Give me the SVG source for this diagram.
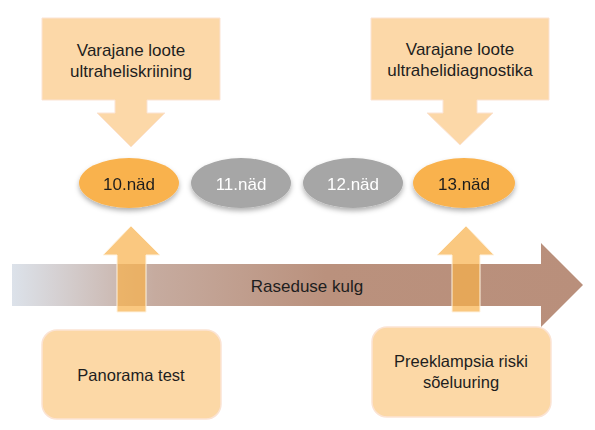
<svg xmlns="http://www.w3.org/2000/svg" width="595" height="430" viewBox="0 0 595 430">
<defs>
<linearGradient id="bar" x1="12" y1="0" x2="583" y2="0" gradientUnits="userSpaceOnUse">
<stop offset="0" stop-color="#DCE2EA"/>
<stop offset="0.25" stop-color="#C6AB9F"/>
<stop offset="0.55" stop-color="#BA917D"/>
<stop offset="1" stop-color="#B98F7B"/>
</linearGradient>
<filter id="sh" x="-20%" y="-20%" width="140%" height="160%">
<feDropShadow dx="0" dy="3" stdDeviation="2.5" flood-color="#000" flood-opacity="0.3"/>
</filter>
<style>
.call{fill:#FCD8A8;stroke:#FBE3D3;stroke-width:1}
.box{fill:#FCD8A6;stroke:#FBE3D3;stroke-width:1.5}
.up{fill:#F8B04A;fill-opacity:0.7;stroke:#FFF3E0;stroke-width:1}
.t{font-family:"Liberation Sans",Arial,sans-serif;fill:#1E1E1E;text-anchor:middle}
.wk{font-family:"Liberation Sans",Arial,sans-serif;font-size:17px;text-anchor:middle}
.org{fill:#F9B24E}
.gry{fill:#A6A6A6}
</style>
</defs>
<g id="callout-left">
<path class="call" d="M42 18 H220 V100 H147 V113 H165 L131 147 L97 113 H115 V100 H42 Z"/>
<text class="t" x="131" y="56" font-size="17">Varajane loote</text>
<text class="t" x="131" y="77" font-size="17">ultraheliskriining</text>
</g>
<g id="callout-right">
<path class="call" d="M371 18 H549 V100 H477 V113 H493 L460 145 L427 113 H443 V100 H371 Z"/>
<text class="t" x="460" y="55" font-size="17">Varajane loote</text>
<text class="t" x="460" y="76" font-size="17">ultrahelidiagnostika</text>
</g>
<g id="wk10" filter="url(#sh)">
<ellipse class="org" cx="129" cy="183" rx="50" ry="25"/>
<text class="wk" x="129" y="190" fill="#1E1E1E">10.näd</text>
</g>
<g id="wk11" filter="url(#sh)">
<ellipse class="gry" cx="241" cy="183" rx="50" ry="25"/>
<text class="wk" x="241" y="190" fill="#FFFFFF">11.näd</text>
</g>
<g id="wk12" filter="url(#sh)">
<ellipse class="gry" cx="353" cy="183" rx="50" ry="25"/>
<text class="wk" x="353" y="190" fill="#FFFFFF">12.näd</text>
</g>
<g id="wk13" filter="url(#sh)">
<ellipse class="org" cx="464" cy="183" rx="51" ry="25"/>
<text class="wk" x="464" y="190" fill="#1E1E1E">13.näd</text>
</g>
<g id="timeline">
<path fill="url(#bar)" d="M12 264 H541 V243 L583 285 L541 327 V306 H12 Z"/>
<text class="t" x="307" y="292" font-size="17">Raseduse kulg</text>
</g>
<g id="connectors">
<path class="up" d="M117 312 V255 H103 L131 226 L160 255 H146 V312 Z"/>
<path class="up" d="M452 312 V255 H437 L466 226 L494 255 H480 V312 Z"/>
</g>
<g id="panorama">
<rect class="box" x="42" y="330" width="179" height="89" rx="15"/>
<text class="t" x="131" y="381" font-size="16.5">Panorama test</text>
</g>
<g id="preeklampsia">
<rect class="box" x="372" y="327" width="179" height="90" rx="15"/>
<text class="t" x="461" y="367" font-size="16.5">Preeklampsia riski</text>
<text class="t" x="461" y="388" font-size="16.5">sõeluuring</text>
</g>
</svg>
